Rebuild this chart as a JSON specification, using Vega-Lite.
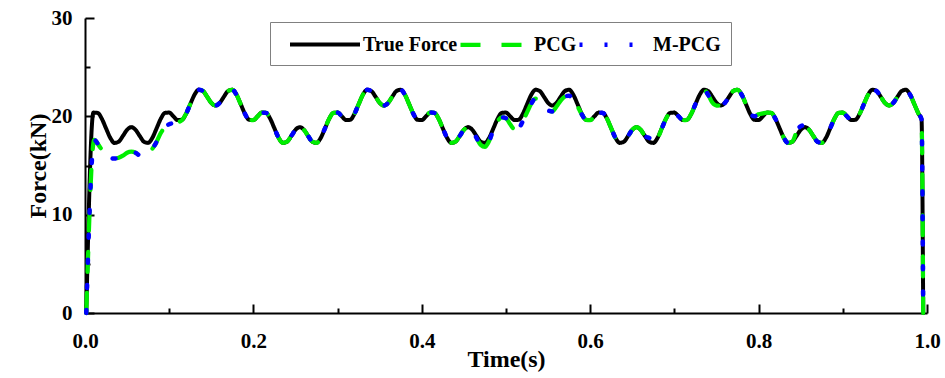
{
"$schema":"https://vega.github.io/schema/vega-lite/v6.json",
"width":842,"height":295,
"autosize":"none",
"padding":{"left":85,"top":18,"right":18,"bottom":65},
"background":"white",
"title":{"text":"(a)","font":"Liberation Serif","fontSize":20,"fontWeight":"bold","color":"black","anchor":"middle","dx":-29,"offset":10},
"config":{"view":{"stroke":null},
 "legend":{"orient":"none","direction":"horizontal","strokeColor":"#808080","padding":10,"fillColor":"white","labelFont":"Liberation Serif","labelFontSize":20,"labelFontWeight":"bold","labelColor":"black","labelOffset":51,"columnPadding":-8,"symbolSize":400,"symbolType":"M-1,0H6","labelLimit":0,"titleOrient":"left","titlePadding":8,"titleFontSize":20,"titleFont":"Liberation Serif"}},
"data":{"values":[
{"t":0.0015,"T":0,"P":0,"M":0},
{"t":0.01,"T":20.38},
{"t":0.011,"P":17.6,"M":17.6},
{"t":0.015,"T":20.35},
{"t":0.016,"P":17.1,"M":17.1},
{"t":0.02,"T":19.75,"P":16.6,"M":16.6},
{"t":0.025,"T":18.77,"P":16.1,"M":16.1},
{"t":0.03,"T":17.81,"P":15.8,"M":15.8},
{"t":0.035,"T":17.30,"P":15.7,"M":15.7},
{"t":0.04,"T":17.42,"P":15.8,"M":15.8},
{"t":0.045,"T":18.00,"P":16.0,"M":16.0},
{"t":0.05,"T":18.63,"P":16.3,"M":16.3},
{"t":0.055,"T":18.90,"P":16.4,"M":16.4},
{"t":0.06,"T":18.63,"P":16.3,"M":16.3},
{"t":0.065,"T":18.00,"P":16.0,"M":16.0},
{"t":0.07,"T":17.42,"P":15.9,"M":15.9},
{"t":0.075,"T":17.30,"P":16.2,"M":16.2},
{"t":0.08,"T":17.81,"P":16.7,"M":16.7},
{"t":0.085,"T":18.77,"P":17.4,"M":17.4},
{"t":0.09,"T":19.75,"P":18.3,"M":18.3},
{"t":0.095,"T":20.35,"P":18.9,"M":18.9},
{"t":0.1,"T":20.38,"P":19.2,"M":19.2},
{"t":0.105,"T":20.00,"P":19.3,"M":19.3},
{"t":0.11,"T":19.62,"P":19.4,"M":19.4},
{"t":0.115,"T":19.65,"P":19.6,"M":19.6},
{"t":0.12,"T":20.25,"P":20.25,"M":20.25},
{"t":0.125,"T":21.23,"P":21.23,"M":21.23},
{"t":0.13,"T":22.19,"P":22.19,"M":22.19},
{"t":0.135,"T":22.70,"P":22.70,"M":22.70},
{"t":0.14,"T":22.58,"P":22.58,"M":22.58},
{"t":0.145,"T":22.00,"P":22.00,"M":22.00},
{"t":0.15,"T":21.37,"P":21.37,"M":21.37},
{"t":0.155,"T":21.10,"P":21.10,"M":21.10},
{"t":0.16,"T":21.37,"P":21.37,"M":21.37},
{"t":0.165,"T":22.00,"P":22.00,"M":22.00},
{"t":0.17,"T":22.58,"P":22.58,"M":22.58},
{"t":0.175,"T":22.70,"P":22.70,"M":22.70},
{"t":0.18,"T":22.19,"P":22.19,"M":22.19},
{"t":0.185,"T":21.23,"P":21.23,"M":21.23},
{"t":0.19,"T":20.25,"P":20.25,"M":20.25},
{"t":0.195,"T":19.65,"P":19.65,"M":19.65},
{"t":0.2,"T":19.62,"P":19.62,"M":19.62},
{"t":0.205,"T":20.00,"P":20.00,"M":20.00},
{"t":0.21,"T":20.38,"P":20.38,"M":20.38},
{"t":0.215,"T":20.35,"P":20.35,"M":20.35},
{"t":0.22,"T":19.75,"P":19.75,"M":19.75},
{"t":0.225,"T":18.77,"P":18.77,"M":18.77},
{"t":0.23,"T":17.81,"P":17.81,"M":17.81},
{"t":0.235,"T":17.30,"P":17.30,"M":17.30},
{"t":0.24,"T":17.42,"P":17.42,"M":17.42},
{"t":0.245,"T":18.00,"P":18.00,"M":18.00},
{"t":0.25,"T":18.63,"P":18.63,"M":18.63},
{"t":0.255,"T":18.90,"P":18.90,"M":18.90},
{"t":0.26,"T":18.63,"P":18.63,"M":18.63},
{"t":0.265,"T":18.00,"P":18.00,"M":18.00},
{"t":0.27,"T":17.42,"P":17.42,"M":17.42},
{"t":0.275,"T":17.30,"P":17.30,"M":17.30},
{"t":0.28,"T":17.81,"P":17.81,"M":17.81},
{"t":0.285,"T":18.77,"P":18.77,"M":18.77},
{"t":0.29,"T":19.75,"P":19.75,"M":19.75},
{"t":0.295,"T":20.35,"P":20.35,"M":20.35},
{"t":0.3,"T":20.38,"P":20.38,"M":20.38},
{"t":0.305,"T":20.00,"P":20.00,"M":20.00},
{"t":0.31,"T":19.62,"P":19.62,"M":19.62},
{"t":0.315,"T":19.65,"P":19.65,"M":19.65},
{"t":0.32,"T":20.25,"P":20.25,"M":20.25},
{"t":0.325,"T":21.23,"P":21.23,"M":21.23},
{"t":0.33,"T":22.19,"P":22.19,"M":22.19},
{"t":0.335,"T":22.70,"P":22.70,"M":22.70},
{"t":0.34,"T":22.58,"P":22.58,"M":22.58},
{"t":0.345,"T":22.00,"P":22.00,"M":22.00},
{"t":0.35,"T":21.37,"P":21.37,"M":21.37},
{"t":0.355,"T":21.10,"P":21.10,"M":21.10},
{"t":0.36,"T":21.37,"P":21.37,"M":21.37},
{"t":0.365,"T":22.00,"P":22.00,"M":22.00},
{"t":0.37,"T":22.58,"P":22.58,"M":22.58},
{"t":0.375,"T":22.70,"P":22.70,"M":22.70},
{"t":0.38,"T":22.19,"P":22.19,"M":22.19},
{"t":0.385,"T":21.23,"P":21.23,"M":21.23},
{"t":0.39,"T":20.25,"P":20.25,"M":20.25},
{"t":0.395,"T":19.65,"P":19.65,"M":19.65},
{"t":0.4,"T":19.62,"P":19.62,"M":19.62},
{"t":0.405,"T":20.00,"P":20.00,"M":20.00},
{"t":0.41,"T":20.38,"P":20.38,"M":20.38},
{"t":0.415,"T":20.35,"P":20.35,"M":20.35},
{"t":0.42,"T":19.75,"P":19.75,"M":19.75},
{"t":0.425,"T":18.77,"P":18.77,"M":18.77},
{"t":0.43,"T":17.81,"P":17.81,"M":17.81},
{"t":0.435,"T":17.30,"P":17.30,"M":17.30},
{"t":0.44,"T":17.42,"P":17.42,"M":17.42},
{"t":0.445,"T":18.00,"P":18.00,"M":18.00},
{"t":0.45,"T":18.63,"P":18.63,"M":18.63},
{"t":0.455,"T":18.90,"P":18.90,"M":18.90},
{"t":0.46,"T":18.63,"P":18.63,"M":18.63},
{"t":0.465,"T":18.00,"P":17.8,"M":17.8},
{"t":0.47,"T":17.42,"P":17.1,"M":17.1},
{"t":0.475,"T":17.30,"P":16.9,"M":16.9},
{"t":0.48,"T":17.81,"P":17.5,"M":17.5},
{"t":0.485,"T":18.77,"P":18.6,"M":18.6},
{"t":0.49,"T":19.75,"P":19.5,"M":19.5},
{"t":0.495,"T":20.35,"P":19.9,"M":19.9},
{"t":0.5,"T":20.38,"P":19.8,"M":19.8},
{"t":0.505,"T":20.00,"P":19.2,"M":19.2},
{"t":0.51,"T":19.62,"P":18.7,"M":18.7},
{"t":0.515,"T":19.65,"P":18.8,"M":18.8},
{"t":0.52,"T":20.25,"P":19.5,"M":19.5},
{"t":0.525,"T":21.23,"P":20.4,"M":20.4},
{"t":0.53,"T":22.19,"P":21.3,"M":21.3},
{"t":0.535,"T":22.70,"P":21.8,"M":21.8},
{"t":0.54,"T":22.58,"P":21.7,"M":21.7},
{"t":0.545,"T":22.00,"P":21.1,"M":21.1},
{"t":0.55,"T":21.37,"P":20.6,"M":20.6},
{"t":0.555,"T":21.10,"P":20.5,"M":20.5},
{"t":0.56,"T":21.37,"P":21.0,"M":21.0},
{"t":0.565,"T":22.00,"P":21.6,"M":21.6},
{"t":0.57,"T":22.58,"P":22.0,"M":22.0},
{"t":0.575,"T":22.70,"P":22.1,"M":22.1},
{"t":0.58,"T":22.19,"P":21.6,"M":21.6},
{"t":0.585,"T":21.23,"P":21.0,"M":21.0},
{"t":0.59,"T":20.25,"P":20.2,"M":20.2},
{"t":0.595,"T":19.65,"P":19.65,"M":19.65},
{"t":0.6,"T":19.62,"P":19.62,"M":19.62},
{"t":0.605,"T":20.00,"P":20.00,"M":20.00},
{"t":0.61,"T":20.38,"P":20.38,"M":20.38},
{"t":0.615,"T":20.35,"P":20.35,"M":20.35},
{"t":0.62,"T":19.75,"P":19.75,"M":19.75},
{"t":0.625,"T":18.77,"P":18.77,"M":18.77},
{"t":0.63,"T":17.81,"P":17.81,"M":17.81},
{"t":0.635,"T":17.30,"P":17.30,"M":17.30},
{"t":0.64,"T":17.42,"P":17.42,"M":17.42},
{"t":0.645,"T":18.00,"P":18.00,"M":18.00},
{"t":0.65,"T":18.63,"P":18.63,"M":18.63},
{"t":0.655,"T":18.90,"P":18.90,"M":18.90},
{"t":0.66,"T":18.63,"P":18.63,"M":18.63},
{"t":0.665,"T":18.00,"P":18.00,"M":18.00},
{"t":0.67,"T":17.42,"P":17.8,"M":17.8},
{"t":0.675,"T":17.30,"P":17.6,"M":17.6},
{"t":0.68,"T":17.81,"P":17.81,"M":17.81},
{"t":0.685,"T":18.77,"P":18.77,"M":18.77},
{"t":0.69,"T":19.75,"P":19.75,"M":19.75},
{"t":0.695,"T":20.35,"P":20.35,"M":20.35},
{"t":0.7,"T":20.38,"P":20.38,"M":20.38},
{"t":0.705,"T":20.00,"P":20.00,"M":20.00},
{"t":0.71,"T":19.62,"P":19.62,"M":19.62},
{"t":0.715,"T":19.65,"P":19.65,"M":19.65},
{"t":0.72,"T":20.25,"P":20.25,"M":20.25},
{"t":0.725,"T":21.23,"P":21.23,"M":21.23},
{"t":0.73,"T":22.19,"P":22.19,"M":22.19},
{"t":0.735,"T":22.70,"P":22.70,"M":22.70},
{"t":0.74,"T":22.58,"P":22.2,"M":22.2},
{"t":0.745,"T":22.00,"P":21.4,"M":21.4},
{"t":0.75,"T":21.37,"P":21.1,"M":21.1},
{"t":0.755,"T":21.10,"P":21.10,"M":21.10},
{"t":0.76,"T":21.37,"P":21.37,"M":21.37},
{"t":0.765,"T":22.00,"P":22.00,"M":22.00},
{"t":0.77,"T":22.58,"P":22.58,"M":22.58},
{"t":0.775,"T":22.70,"P":22.70,"M":22.70},
{"t":0.78,"T":22.19,"P":22.19,"M":22.19},
{"t":0.785,"T":21.23,"P":21.23,"M":21.23},
{"t":0.79,"T":20.25,"P":20.25,"M":20.25},
{"t":0.795,"T":19.65,"P":20.0,"M":20.0},
{"t":0.8,"T":19.62,"P":20.2,"M":20.2},
{"t":0.805,"T":20.00,"P":20.3,"M":20.3},
{"t":0.81,"T":20.38,"P":20.38,"M":20.38},
{"t":0.815,"T":20.35,"P":20.35,"M":20.35},
{"t":0.82,"T":19.75,"P":19.75,"M":19.75},
{"t":0.825,"T":18.77,"P":18.77,"M":18.77},
{"t":0.83,"T":17.81,"P":17.81,"M":17.81},
{"t":0.835,"T":17.30,"P":17.30,"M":17.30},
{"t":0.84,"T":17.42,"P":17.42,"M":17.42},
{"t":0.845,"T":18.00,"P":18.4,"M":18.4},
{"t":0.85,"T":18.63,"P":19.0,"M":19.0},
{"t":0.855,"T":18.90,"P":19.1,"M":19.1},
{"t":0.86,"T":18.63,"P":18.63,"M":18.63},
{"t":0.865,"T":18.00,"P":18.00,"M":18.00},
{"t":0.87,"T":17.42,"P":17.42,"M":17.42},
{"t":0.875,"T":17.30,"P":17.30,"M":17.30},
{"t":0.88,"T":17.81,"P":17.81,"M":17.81},
{"t":0.885,"T":18.77,"P":18.77,"M":18.77},
{"t":0.89,"T":19.75,"P":19.75,"M":19.75},
{"t":0.895,"T":20.35,"P":20.35,"M":20.35},
{"t":0.9,"T":20.38,"P":20.38,"M":20.38},
{"t":0.905,"T":20.00,"P":20.00,"M":20.00},
{"t":0.91,"T":19.62,"P":19.62,"M":19.62},
{"t":0.915,"T":19.65,"P":19.65,"M":19.65},
{"t":0.92,"T":20.25,"P":20.25,"M":20.25},
{"t":0.925,"T":21.23,"P":21.23,"M":21.23},
{"t":0.93,"T":22.19,"P":22.19,"M":22.19},
{"t":0.935,"T":22.70,"P":22.70,"M":22.70},
{"t":0.94,"T":22.58,"P":22.58,"M":22.58},
{"t":0.945,"T":22.00,"P":22.00,"M":22.00},
{"t":0.95,"T":21.37,"P":21.37,"M":21.37},
{"t":0.955,"T":21.10,"P":21.10,"M":21.10},
{"t":0.96,"T":21.37,"P":21.37,"M":21.37},
{"t":0.965,"T":22.00,"P":22.00,"M":22.00},
{"t":0.97,"T":22.58,"P":22.58,"M":22.58},
{"t":0.975,"T":22.70,"P":22.70,"M":22.70},
{"t":0.98,"T":22.19,"P":22.19,"M":22.19},
{"t":0.985,"T":21.23,"P":21.23,"M":21.23},
{"t":0.99,"T":20.25,"P":20.25,"M":20.25},
{"t":0.9935,"T":19.7,"P":19.7,"M":19.7},
{"t":0.9955,"T":0,"P":0,"M":0}
]},
"transform":[{"fold":["T","P","M"],"as":["key","force"]},{"filter":"isValid(datum.force)"}],
"encoding":{
 "x":{"field":"t","type":"quantitative","scale":{"domain":[0,1],"nice":false,"zero":false},
  "axis":{"title":"Time(s)","values":[0,0.1,0.2,0.3,0.4,0.5,0.6,0.7,0.8,0.9,1],
   "labelExpr":"round(datum.value*10)%2==0 ? format(datum.value,'.1f') : ''",
   "grid":false,"domainColor":"black","domainWidth":2,"tickColor":"black","tickWidth":2,
   "tickSize":{"condition":{"test":"round(datum.value*10)%2==0","value":-9},"value":-5},
   "labelFont":"Liberation Serif","labelFontSize":21,"labelFontWeight":"bold","labelColor":"black","labelPadding":26,"labelFlush":false,"labelOverlap":false,
   "titleFont":"Liberation Serif","titleFontSize":24,"titleFontWeight":"bold","titleColor":"black","titlePadding":-8}},
 "y":{"field":"force","type":"quantitative","scale":{"domain":[0,30],"nice":false},
  "axis":{"title":"Force(kN)","values":[0,5,10,15,20,25,30],
   "labelExpr":"datum.value%10==0 ? datum.value : ''",
   "grid":false,"domainColor":"black","domainWidth":2,"tickColor":"black","tickWidth":2,
   "tickSize":{"condition":{"test":"datum.value%10==0","value":-9},"value":-5},
   "labelFont":"Liberation Serif","labelFontSize":21,"labelFontWeight":"bold","labelColor":"black","labelPadding":22,"labelFlush":false,"labelOverlap":false,
   "titleFont":"Liberation Serif","titleFontSize":24,"titleFontWeight":"bold","titleColor":"black","titlePadding":1}},
 "color":{"field":"key","type":"nominal","scale":{"domain":["T","P","M"],"range":["#000000","#00ee00","#0000ff"]},
  "legend":{"title":"\u00a0","legendX":185,"legendY":4,"labelExpr":"datum.label=='T' ? 'True Force' : datum.label=='P' ? 'PCG' : 'M-PCG'"}},
 "strokeDash":{"field":"key","type":"nominal","scale":{"domain":["T","P","M"],"range":[[1,0],[20,21],[3,22]]},
  "legend":{"title":"\u00a0","legendX":185,"legendY":4,"labelExpr":"datum.label=='T' ? 'True Force' : datum.label=='P' ? 'PCG' : 'M-PCG'"}},
 "strokeWidth":{"field":"key","type":"nominal","scale":{"domain":["T","P","M"],"range":[4,4.5,5]},
  "legend":{"title":"\u00a0","legendX":185,"legendY":4,"labelExpr":"datum.label=='T' ? 'True Force' : datum.label=='P' ? 'PCG' : 'M-PCG'"}}
},
"layer":[
 {"transform":[{"filter":"datum.key=='T'"}],"mark":{"type":"line","interpolate":"monotone","strokeCap":"round","strokeJoin":"round"}},
 {"transform":[{"filter":"datum.key=='P'"}],"mark":{"type":"line","interpolate":"monotone","strokeCap":"round","strokeJoin":"round"}},
 {"transform":[{"filter":"datum.key=='M'"}],"mark":{"type":"line","interpolate":"monotone","strokeCap":"round","strokeJoin":"round"}}
]
}
